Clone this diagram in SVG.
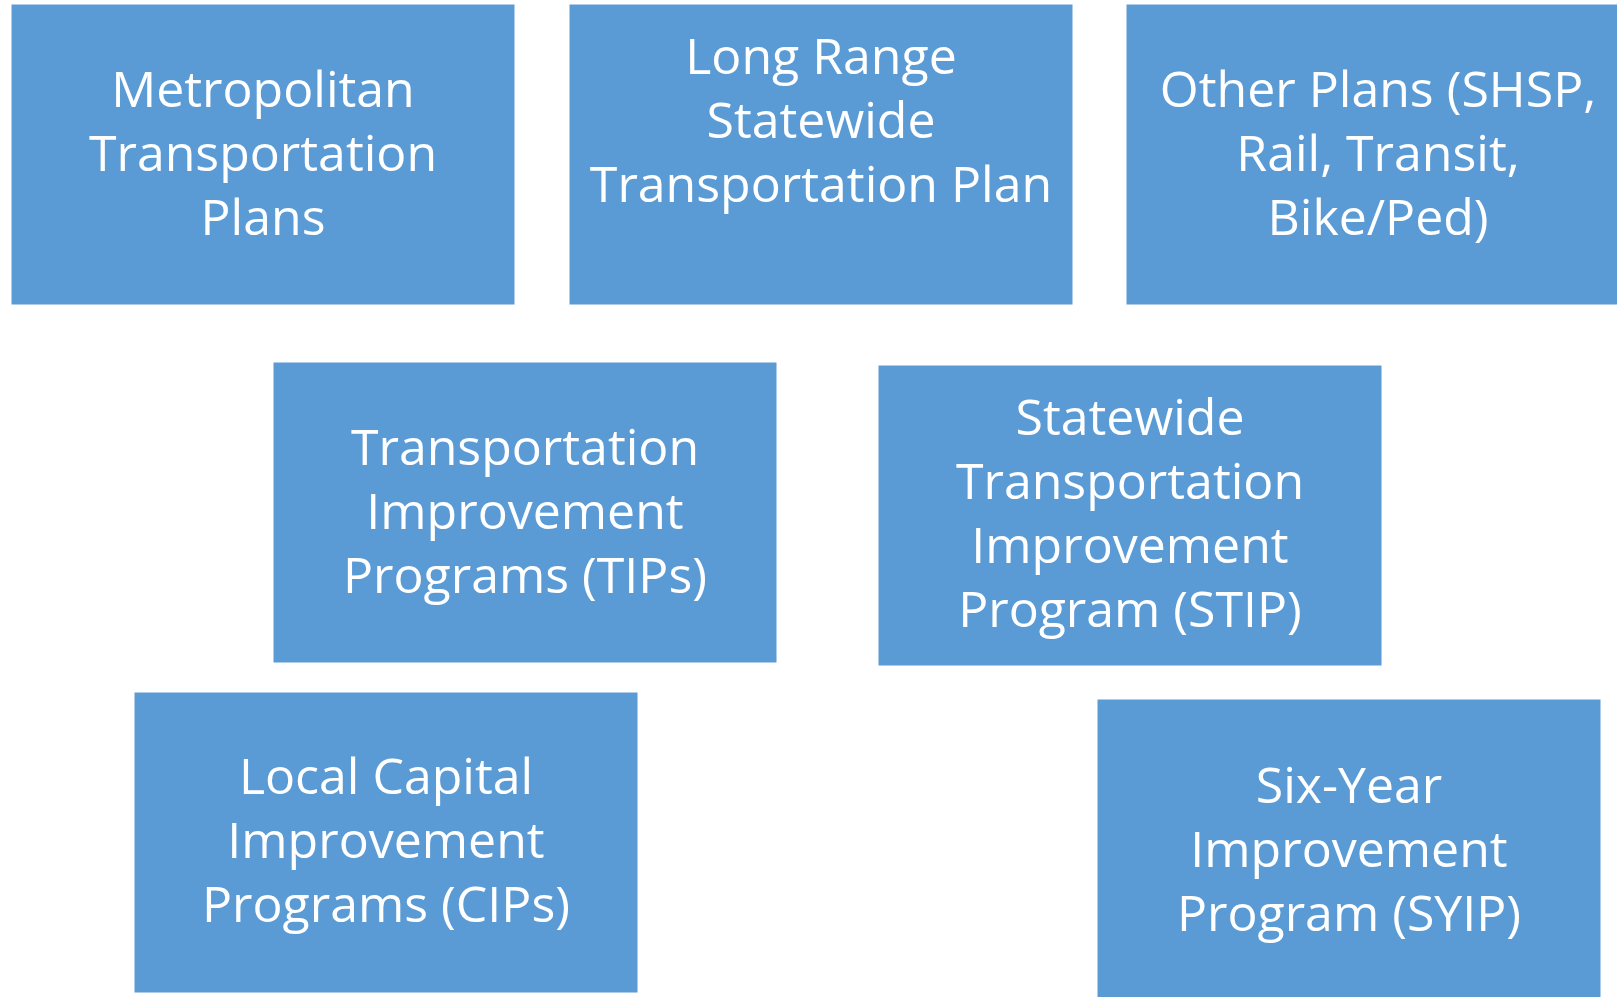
<svg xmlns="http://www.w3.org/2000/svg" width="1617" height="997" viewBox="0 0 1617 997">
  <style>
    .box { fill: #5B9BD5; stroke: #ffffff; stroke-width: 1; }
    .label { fill: #ffffff; font-family: "Open Sans", Lato, "Liberation Sans", sans-serif; font-size: 50px; text-anchor: middle; }
  </style>
  <rect x="0" y="0" width="1617" height="997" fill="#ffffff"/>

  <!-- Planning documents (top row) -->
  <g id="metropolitan-plans">
    <rect class="box" x="11" y="4" width="504" height="301"/>
    <text class="label" x="263" y="107">Metropolitan</text>
    <text class="label" x="263" y="171">Transportation</text>
    <text class="label" x="263" y="235">Plans</text>
  </g>
  <g id="long-range-plan">
    <rect class="box" x="569" y="4" width="504" height="301"/>
    <text class="label" x="821" y="74">Long Range</text>
    <text class="label" x="821" y="138">Statewide</text>
    <text class="label" x="821" y="202">Transportation Plan</text>
  </g>
  <g id="other-plans">
    <rect class="box" x="1126" y="4" width="504" height="301"/>
    <text class="label" x="1378" y="107">Other Plans (SHSP,</text>
    <text class="label" x="1378" y="171">Rail, Transit,</text>
    <text class="label" x="1378" y="235">Bike/Ped)</text>
  </g>

  <!-- Programs (middle row) -->
  <g id="tips">
    <rect class="box" x="273" y="362" width="504" height="301"/>
    <text class="label" x="525" y="465">Transportation</text>
    <text class="label" x="525" y="529">Improvement</text>
    <text class="label" x="525" y="593">Programs (TIPs)</text>
  </g>
  <g id="stip">
    <rect class="box" x="878" y="365" width="504" height="301"/>
    <text class="label" x="1130" y="435">Statewide</text>
    <text class="label" x="1130" y="499">Transportation</text>
    <text class="label" x="1130" y="563">Improvement</text>
    <text class="label" x="1130" y="627">Program (STIP)</text>
  </g>

  <!-- Programs (bottom row) -->
  <g id="cips">
    <rect class="box" x="134" y="692" width="504" height="301"/>
    <text class="label" x="386" y="794">Local Capital</text>
    <text class="label" x="386" y="858">Improvement</text>
    <text class="label" x="386" y="922">Programs (CIPs)</text>
  </g>
  <g id="syip">
    <rect class="box" x="1097" y="699" width="504" height="301"/>
    <text class="label" x="1349" y="803">Six-Year</text>
    <text class="label" x="1349" y="867">Improvement</text>
    <text class="label" x="1349" y="931">Program (SYIP)</text>
  </g>

  <g id="connectors"></g>
</svg>
